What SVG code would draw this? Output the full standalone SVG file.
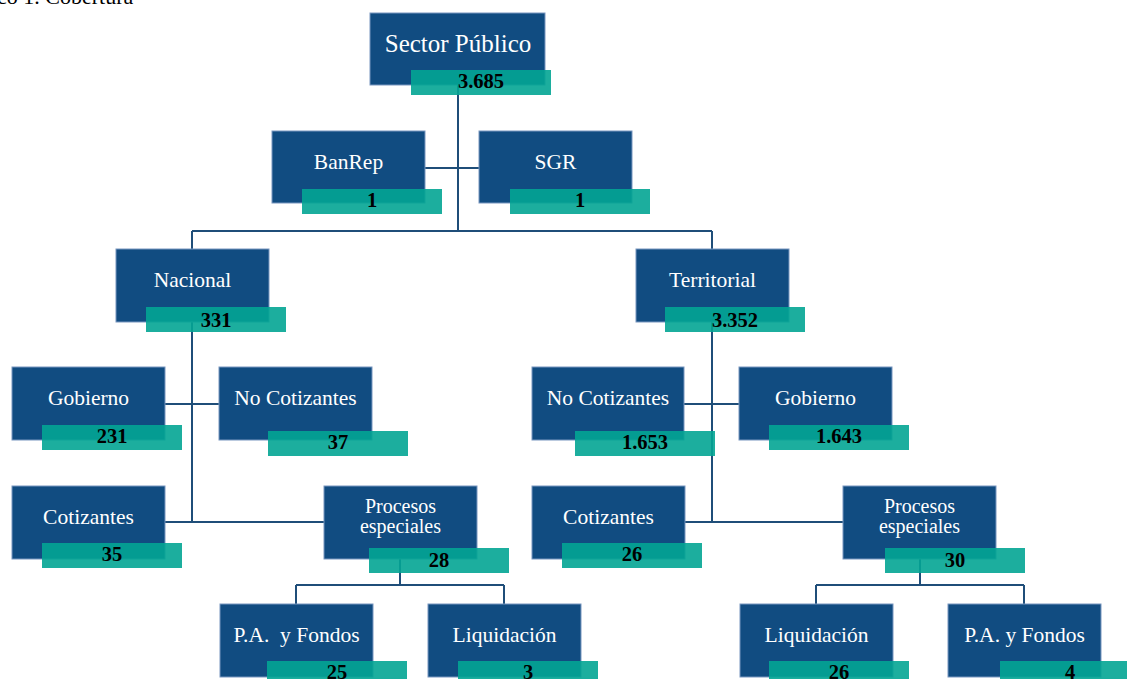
<svg xmlns="http://www.w3.org/2000/svg" width="1127" height="679" viewBox="0 0 1127 679">
<style>
.box{fill:#114c81;stroke:#7896bf;stroke-width:1}
.val{fill:#03a593;fill-opacity:0.9}
.lbl{font-family:"Liberation Serif",serif;font-size:21.5px;fill:#ffffff;text-anchor:middle}
.two{font-size:20px}
.num{font-family:"Liberation Serif",serif;font-size:20.5px;font-weight:bold;fill:#000000;text-anchor:middle}
.cn{fill:none;stroke:#1f4e79;stroke-width:2}
</style>
<rect width="1127" height="679" fill="#ffffff"/>
<text x="-3" y="4" font-family="Liberation Serif,serif" font-size="22" fill="#000">co 1. Cobertura</text>
<g id="connectors" class="cn">
<path d="M458 85V231M425 168H479M192 231H712M192 231V249M712 231V249"/>
<path d="M192 322V522M165 404H219M165 522H324M400 559V585M296 585H504M296 585V604M504 585V604"/>
<path d="M712 322V522M684 404H739M685 522H843M920 559V585M816 585H1024M816 585V604M1024 585V604"/>
</g>
<g id="sector-publico"><rect class="box" x="370" y="13" width="175" height="72"/><rect class="val" x="411" y="70" width="140" height="25"/><text class="lbl" x="458" y="52" style="font-size:25px">Sector Público</text><text class="num" x="481" y="88">3.685</text></g>
<g id="banrep"><rect class="box" x="272" y="131" width="153" height="72"/><rect class="val" x="302" y="189" width="140" height="25"/><text class="lbl" x="348.5" y="169">BanRep</text><text class="num" x="372" y="207">1</text></g>
<g id="sgr"><rect class="box" x="479" y="131" width="153" height="72"/><rect class="val" x="510" y="189" width="140" height="25"/><text class="lbl" x="555.5" y="169">SGR</text><text class="num" x="580" y="207">1</text></g>
<g id="nacional"><rect class="box" x="116" y="249" width="153" height="73"/><rect class="val" x="146" y="307" width="140" height="25"/><text class="lbl" x="192.5" y="287">Nacional</text><text class="num" x="216" y="327">331</text></g>
<g id="territorial"><rect class="box" x="636" y="249" width="153" height="73"/><rect class="val" x="665" y="307" width="140" height="25"/><text class="lbl" x="712.5" y="287">Territorial</text><text class="num" x="735" y="327">3.352</text></g>
<g id="nac-gobierno"><rect class="box" x="12" y="367" width="153" height="73"/><rect class="val" x="42" y="425" width="140" height="25"/><text class="lbl" x="88.5" y="405">Gobierno</text><text class="num" x="112" y="443">231</text></g>
<g id="nac-no-cotizantes"><rect class="box" x="219" y="367" width="153" height="73"/><rect class="val" x="268" y="431" width="140" height="25"/><text class="lbl" x="295.5" y="405">No Cotizantes</text><text class="num" x="338" y="449">37</text></g>
<g id="nac-cotizantes"><rect class="box" x="12" y="486" width="153" height="73"/><rect class="val" x="42" y="543" width="140" height="25"/><text class="lbl" x="88.5" y="524">Cotizantes</text><text class="num" x="112" y="561">35</text></g>
<g id="nac-procesos"><rect class="box" x="324" y="486" width="153" height="73"/><rect class="val" x="369" y="548" width="140" height="25"/><text class="lbl two" x="400.5" y="513">Procesos</text><text class="lbl two" x="400.5" y="533">especiales</text><text class="num" x="439" y="567">28</text></g>
<g id="nac-pa-fondos"><rect class="box" x="220" y="604" width="153" height="73"/><rect class="val" x="267" y="661" width="140" height="25"/><text class="lbl" x="296.5" y="642" xml:space="preserve">P.A.  y Fondos</text><text class="num" x="337" y="679">25</text></g>
<g id="nac-liquidacion"><rect class="box" x="428" y="604" width="153" height="73"/><rect class="val" x="458" y="661" width="140" height="25"/><text class="lbl" x="504.5" y="642">Liquidación</text><text class="num" x="528" y="679">3</text></g>
<g id="ter-no-cotizantes"><rect class="box" x="532" y="367" width="152" height="73"/><rect class="val" x="575" y="431" width="140" height="25"/><text class="lbl" x="608" y="405">No Cotizantes</text><text class="num" x="645" y="449">1.653</text></g>
<g id="ter-gobierno"><rect class="box" x="739" y="367" width="153" height="73"/><rect class="val" x="769" y="425" width="140" height="25"/><text class="lbl" x="815.5" y="405">Gobierno</text><text class="num" x="839" y="443">1.643</text></g>
<g id="ter-cotizantes"><rect class="box" x="532" y="486" width="153" height="73"/><rect class="val" x="562" y="543" width="140" height="25"/><text class="lbl" x="608.5" y="524">Cotizantes</text><text class="num" x="632" y="561">26</text></g>
<g id="ter-procesos"><rect class="box" x="843" y="486" width="153" height="73"/><rect class="val" x="885" y="548" width="140" height="25"/><text class="lbl two" x="919.5" y="513">Procesos</text><text class="lbl two" x="919.5" y="533">especiales</text><text class="num" x="955" y="567">30</text></g>
<g id="ter-liquidacion"><rect class="box" x="740" y="604" width="153" height="73"/><rect class="val" x="769" y="661" width="140" height="25"/><text class="lbl" x="816.5" y="642">Liquidación</text><text class="num" x="839" y="679">26</text></g>
<g id="ter-pa-fondos"><rect class="box" x="948" y="604" width="153" height="73"/><rect class="val" x="1000" y="661" width="140" height="25"/><text class="lbl" x="1024.5" y="642">P.A. y Fondos</text><text class="num" x="1070" y="679">4</text></g>
</svg>
